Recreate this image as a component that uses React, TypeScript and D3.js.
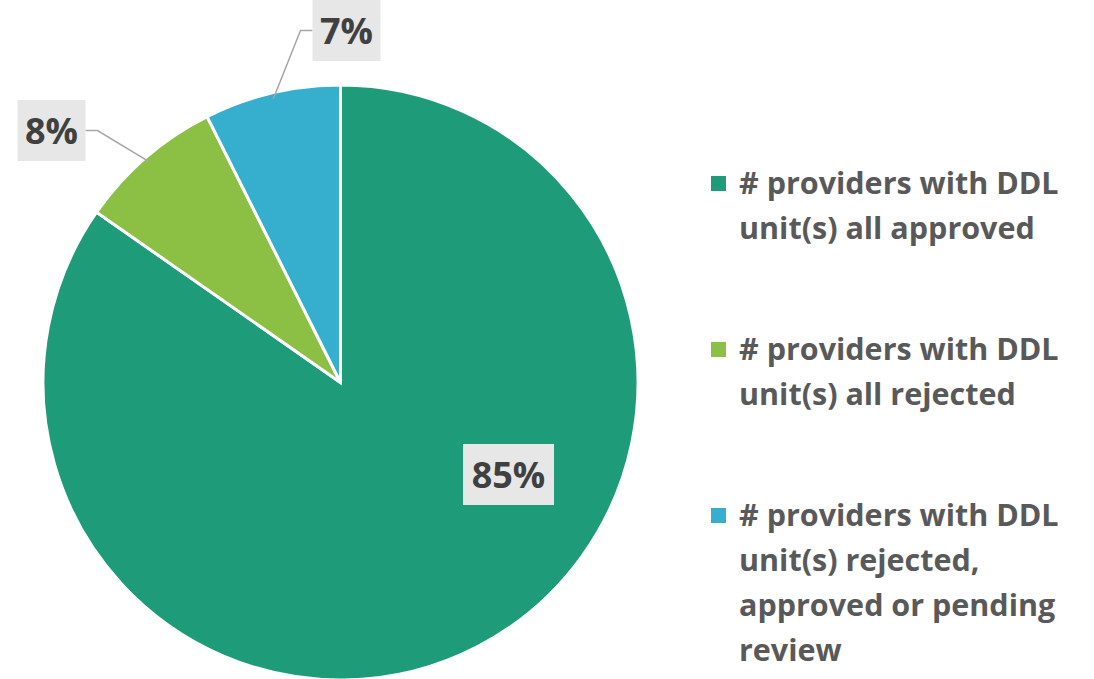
import React from "react";
import * as d3 from "d3";

const categories = [
  "# providers with DDL unit(s) all approved",
  "# providers with DDL unit(s) all rejected",
  "# providers with DDL unit(s) rejected, approved or pending review",
];
const legendLines = [
  ["# providers with DDL", "unit(s) all approved"],
  ["# providers with DDL", "unit(s) all rejected"],
  ["# providers with DDL", "unit(s) rejected,", "approved or pending", "review"],
];
const values = [84.7, 7.9, 7.4];
const labels = ["85%", "8%", "7%"];
const colors = ["#1E9B79", "#8CC045", "#36AFCF"];

const W = 1094;
const H = 679;
const cx = 340.5;
const cy = 382.5;
const R = 297.5;

// label box centres relative to pie centre, elbow offsets
const labelPos = [
  { x: 168, y: 92, leader: false, elbowDx: 0 },
  { x: -289, y: -252, leader: true, elbowDx: 12 },
  { x: 6, y: -352, leader: true, elbowDx: -12 },
];

export default function App() {
  const pie = d3.pie<number>().sort(null).value((d) => d);
  const arcs = pie(values);
  const arcGen = d3.arc<d3.PieArcDatum<number>>().innerRadius(0).outerRadius(R);
  const font = "'Open Sans', sans-serif";

  return (
    <div style={{ position: "absolute", left: 0, top: 0 }}>
      <svg width={W} height={H} style={{ display: "block", background: "#fff" }}>
        <g transform={`translate(${cx},${cy})`}>
          {arcs.map((a, i) => (
            <path key={i} d={arcGen(a) || ""} fill={colors[i]} stroke="#fff" strokeWidth={3} />
          ))}
          {arcs.map((a, i) => {
            const lp = labelPos[i];
            const bw = labels[i].length * 23 + 22;
            const bh = 61;
            const mid = (a.startAngle + a.endAngle) / 2;
            const px = Math.sin(mid) * (R - 6);
            const py = -Math.cos(mid) * (R - 6);
            const side = lp.elbowDx > 0 ? 1 : -1;
            const edgeX = lp.x + (side > 0 ? bw / 2 : -bw / 2);
            const elbowX = edgeX + lp.elbowDx;
            return (
              <g key={"l" + i}>
                {lp.leader && (
                  <polyline
                    points={`${px},${py} ${elbowX},${lp.y} ${edgeX},${lp.y}`}
                    fill="none"
                    stroke="#A6A6A6"
                    strokeWidth={1.5}
                  />
                )}
                <rect x={lp.x - bw / 2} y={lp.y - bh / 2} width={bw} height={bh} fill="#E7E7E7" />
                <text
                  x={lp.x}
                  y={lp.y + 13}
                  textAnchor="middle"
                  fontFamily={font}
                  fontWeight={700}
                  fontSize={36}
                  fill="#404040"
                >
                  {labels[i]}
                </text>
              </g>
            );
          })}
        </g>
        <g>
          {legendLines.map((lines, i) => {
            const y0 = 194 + i * 166;
            return (
              <g key={"lg" + i}>
                <rect x={711} y={y0 - 18} width={15} height={15} fill={colors[i]} />
                <title>{categories[i]}</title>
                {lines.map((ln, j) => (
                  <text
                    key={j}
                    x={739}
                    y={y0 + j * 45}
                    fontFamily={font}
                    fontWeight={700}
                    fontSize={30.5}
                    fill="#595959"
                  >
                    {ln}
                  </text>
                ))}
              </g>
            );
          })}
        </g>
      </svg>
    </div>
  );
}
